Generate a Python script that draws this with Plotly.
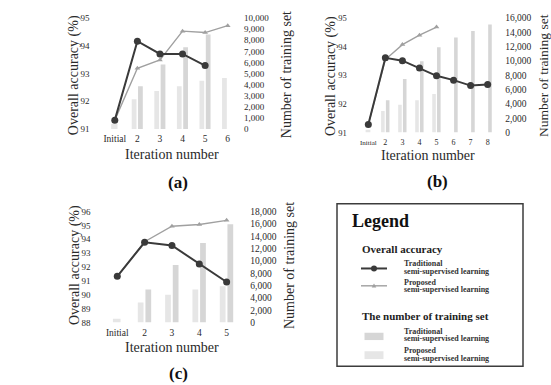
import plotly.graph_objects as go

W, H = 551, 385
FONT = "Liberation Serif, Times New Roman, DejaVu Serif, serif"

# ---------------- data ----------------
cats_a = ["Initial", "2", "3", "4", "5", "6"]
acc_trad_a = [91.32, 94.17, 93.71, 93.71, 93.29, None]
acc_prop_a = [91.32, 93.19, 93.49, 94.53, 94.48, 94.73]
train_init_a = [450, None, None, None, None, None]
train_trad_a = [None, 3860, 5820, 7370, 8530, None]
train_prop_a = [None, 2680, 3420, 3860, 4350, 4590]

cats_b = ["Initial", "2", "3", "4", "5", "6", "7", "8"]
acc_trad_b = [91.28, 93.61, 93.51, 93.25, 92.98, 92.83, 92.64, 92.68]
acc_prop_b = [91.28, 93.55, 94.07, 94.40, 94.68, None, None, None]
train_init_b = [400, None, None, None, None, None, None, None]
train_trad_b = [None, 4520, 7470, 9960, 11900, 13270, 14170, 15080]
train_prop_b = [None, 3000, 3900, 4500, 5400, None, None, None]

cats_c = ["Initial", "2", "3", "4", "5"]
acc_trad_c = [91.33, 93.78, 93.55, 92.22, 90.92]
acc_prop_c = [91.33, 93.82, 94.94, 95.06, 95.36]
train_init_c = [600, None, None, None, None]
train_trad_c = [None, 5360, 9330, 12880, 15950]
train_prop_c = [None, 3230, 4500, 5360, 5880]

left_ticks_a = [91, 92, 93, 94, 95]
right_ticks_a = list(range(0, 10001, 1000))
left_ticks_b = [91, 92, 93, 94, 95]
right_ticks_b = list(range(0, 16001, 2000))
left_ticks_c = [88, 89, 90, 91, 92, 93, 94, 95, 96]
right_ticks_c = list(range(0, 18001, 2000))

# ---------------- styles ----------------
C_TRAD_LINE = "#3a3a3a"
C_PROP_LINE = "#a0a0a0"
C_TRAD_BAR = "#d6d6d6"
C_PROP_BAR = "#e6e6e6"
C_TEXT = "#2a2a2a"


def fx(px):
    return px / W


def fy(py):
    return 1 - py / H


fig = go.Figure()

panels = [
    dict(cats=cats_a, at=acc_trad_a, ap=acc_prop_a, ti=train_init_a, tt=train_trad_a, tp=train_prop_a,
         xa="x", ybar="y", yline="y2",
         xdom=[103.5, 239], ydom=[13.5, 127.3],
         lrange=[91, 95], lticks=left_ticks_a, rrange=[0, 10000], rticks=right_ticks_a,
         lstand=13, rstand=4, xfs=9.5, xfs_init=9.5, yfs=9, rfs=9),
    dict(cats=cats_b, at=acc_trad_b, ap=acc_prop_b, ti=train_init_b, tt=train_trad_b, tp=train_prop_b,
         xa="x2", ybar="y3", yline="y4",
         xdom=[359.8, 496.2], ydom=[13.3, 131],
         lrange=[91, 95], lticks=left_ticks_b, rrange=[0, 16000], rticks=right_ticks_b,
         lstand=12, rstand=8, xfs=8, xfs_init=7, yfs=8.5, rfs=9.5),
    dict(cats=cats_c, at=acc_trad_c, ap=acc_prop_c, ti=train_init_c, tt=train_trad_c, tp=train_prop_c,
         xa="x3", ybar="y5", yline="y6",
         xdom=[103.6, 240.3], ydom=[212, 326],
         lrange=[88, 96], lticks=left_ticks_c, rrange=[0, 18000], rticks=right_ticks_c,
         lstand=12, rstand=9, xfs=9.5, xfs_init=9.5, yfs=9, rfs=9.5),
]


def axname(ref):
    return ref[0] + "axis" + ref[1:]


for p in panels:
    # bars (base axis, right side)
    fig.add_trace(go.Bar(x=p["cats"], y=p["ti"], xaxis=p["xa"], yaxis=p["ybar"],
                         marker=dict(color=C_PROP_BAR, line=dict(width=0)),
                         offset=-0.16, width=0.28, showlegend=False))
    fig.add_trace(go.Bar(x=p["cats"], y=p["tp"], xaxis=p["xa"], yaxis=p["ybar"],
                         marker=dict(color=C_PROP_BAR, line=dict(width=0)),
                         offset=-0.25, width=0.21, showlegend=False))
    fig.add_trace(go.Bar(x=p["cats"], y=p["tt"], xaxis=p["xa"], yaxis=p["ybar"],
                         marker=dict(color=C_TRAD_BAR, line=dict(width=0)),
                         offset=0.03, width=0.21, showlegend=False))
    # lines (overlay axis, left side)
    fig.add_trace(go.Scatter(x=p["cats"], y=p["ap"], xaxis=p["xa"], yaxis=p["yline"],
                             mode="lines+markers", line=dict(color=C_PROP_LINE, width=1.4),
                             marker=dict(symbol="triangle-up", size=5, color=C_PROP_LINE),
                             showlegend=False))
    fig.add_trace(go.Scatter(x=p["cats"], y=p["at"], xaxis=p["xa"], yaxis=p["yline"],
                             mode="lines+markers", line=dict(color=C_TRAD_LINE, width=2),
                             marker=dict(symbol="circle", size=7, color=C_TRAD_LINE),
                             showlegend=False))

    xd = [fx(p["xdom"][0]), fx(p["xdom"][1])]
    yd = [fy(p["ydom"][1]), fy(p["ydom"][0])]
    ticktext = [
        f"<span style='font-size:{p['xfs_init']}px'>{c}</span>" if c == "Initial" else c
        for c in p["cats"]
    ]
    n = len(p["cats"])
    fig.layout[axname(p["xa"])] = dict(
        domain=xd, anchor=p["ybar"], type="category", range=[-0.5, n - 0.5],
        showline=False, showgrid=False, zeroline=False,
        tickmode="array", tickvals=p["cats"], ticktext=ticktext,
        ticks="", ticklabelstandoff=3,
        tickfont=dict(family=FONT, size=p["xfs"], color=C_TEXT),
    )
    fig.layout[axname(p["ybar"])] = dict(
        domain=yd, anchor=p["xa"], side="right", range=p["rrange"],
        tickmode="array", tickvals=p["rticks"], tickformat=",d",
        showline=False, showgrid=False, zeroline=False, ticks="",
        ticklabelstandoff=p["rstand"],
        tickfont=dict(family=FONT, size=p["rfs"], color=C_TEXT),
    )
    fig.layout[axname(p["yline"])] = dict(
        overlaying=p["ybar"], anchor=p["xa"], side="left", range=p["lrange"],
        tickmode="array", tickvals=p["lticks"],
        showline=False, showgrid=False, zeroline=False, ticks="",
        ticklabelstandoff=p["lstand"],
        tickfont=dict(family=FONT, size=p["yfs"], color=C_TEXT),
    )

annotations = []


def ann(text, x, y, size, bold=False, angle=0, xanchor="center", color=C_TEXT):
    annotations.append(dict(
        text=f"<b>{text}</b>" if bold else text,
        x=fx(x), y=fy(y), xref="paper", yref="paper",
        xanchor=xanchor, yanchor="middle", showarrow=False, textangle=angle,
        font=dict(family=FONT, size=size, color=color),
    ))


# axis titles
ann("Overall accuracy (%)", 74, 72, 14, angle=-90)
ann("Number of training set", 286, 72, 14, angle=-90)
ann("Iteration number", 172, 153, 14)
ann("(a)", 178, 182, 17, bold=True, color="#111")

ann("Overall accuracy (%)", 331, 73, 14, angle=-90)
ann("Number of training set", 543, 73, 13.5, angle=-90)
ann("Iteration number", 428, 154, 14)
ann("(b)", 437, 181, 17, bold=True, color="#111")

ann("Overall accuracy (%)", 75, 267, 14, angle=-90)
ann("Number of training set", 289, 268, 14, angle=-90)
ann("Iteration number", 172, 352, 14)
ann("(c)", 178, 378, 17, bold=True, color="#111")

# legend box
LFS = 8
ann("Legend", 350, 222, 18, bold=True, xanchor="left", color="#111")
ann("Overall accuracy", 360, 251, 11, bold=True, xanchor="left", color="#222")
ann("Traditional", 402, 265.8, LFS, bold=True, xanchor="left", color="#333")
ann("semi-supervised learning", 402, 273.6, LFS, bold=True, xanchor="left", color="#333")
ann("Proposed", 402, 284.6, LFS, bold=True, xanchor="left", color="#333")
ann("semi-supervised learning", 402, 292.4, LFS, bold=True, xanchor="left", color="#333")
ann("The number of training set", 360, 319, 11, bold=True, xanchor="left", color="#222")
ann("Traditional", 402, 335, LFS, bold=True, xanchor="left", color="#333")
ann("semi-supervised learning", 402, 342.8, LFS, bold=True, xanchor="left", color="#333")
ann("Proposed", 402, 355.2, LFS, bold=True, xanchor="left", color="#333")
ann("semi-supervised learning", 402, 363, LFS, bold=True, xanchor="left", color="#333")

shapes = [
    dict(type="rect", xref="paper", yref="paper", x0=fx(337), x1=fx(523), y0=fy(371), y1=fy(204),
         line=dict(color="#3c3c3c", width=1.5), fillcolor="rgba(0,0,0,0)"),
    dict(type="line", xref="paper", yref="paper", x0=fx(361), x1=fx(387), y0=fy(270.5), y1=fy(270.5),
         line=dict(color=C_TRAD_LINE, width=2)),
    dict(type="circle", xref="paper", yref="paper", x0=fx(371), x1=fx(377), y0=fy(273.5), y1=fy(267.5),
         fillcolor=C_TRAD_LINE, line=dict(width=0)),
    dict(type="line", xref="paper", yref="paper", x0=fx(361), x1=fx(387), y0=fy(288.3), y1=fy(288.3),
         line=dict(color=C_PROP_LINE, width=1.4)),
    dict(type="path", xref="paper", yref="paper",
         path=f"M {fx(374)} {fy(286)} L {fx(376.3)} {fy(290)} L {fx(371.7)} {fy(290)} Z",
         fillcolor=C_PROP_LINE, line=dict(width=0)),
    dict(type="rect", xref="paper", yref="paper", x0=fx(364.5), x1=fx(383.5), y0=fy(344), y1=fy(336.5),
         fillcolor=C_TRAD_BAR, line=dict(width=0)),
    dict(type="rect", xref="paper", yref="paper", x0=fx(364.5), x1=fx(383.5), y0=fy(363.5), y1=fy(355.5),
         fillcolor=C_PROP_BAR, line=dict(width=0)),
]

fig.update_layout(
    width=W, height=H, margin=dict(l=0, r=0, t=0, b=0),
    paper_bgcolor="white", plot_bgcolor="white",
    barmode="overlay", showlegend=False,
    annotations=annotations, shapes=shapes,
)

fig.write_html("out.html")
